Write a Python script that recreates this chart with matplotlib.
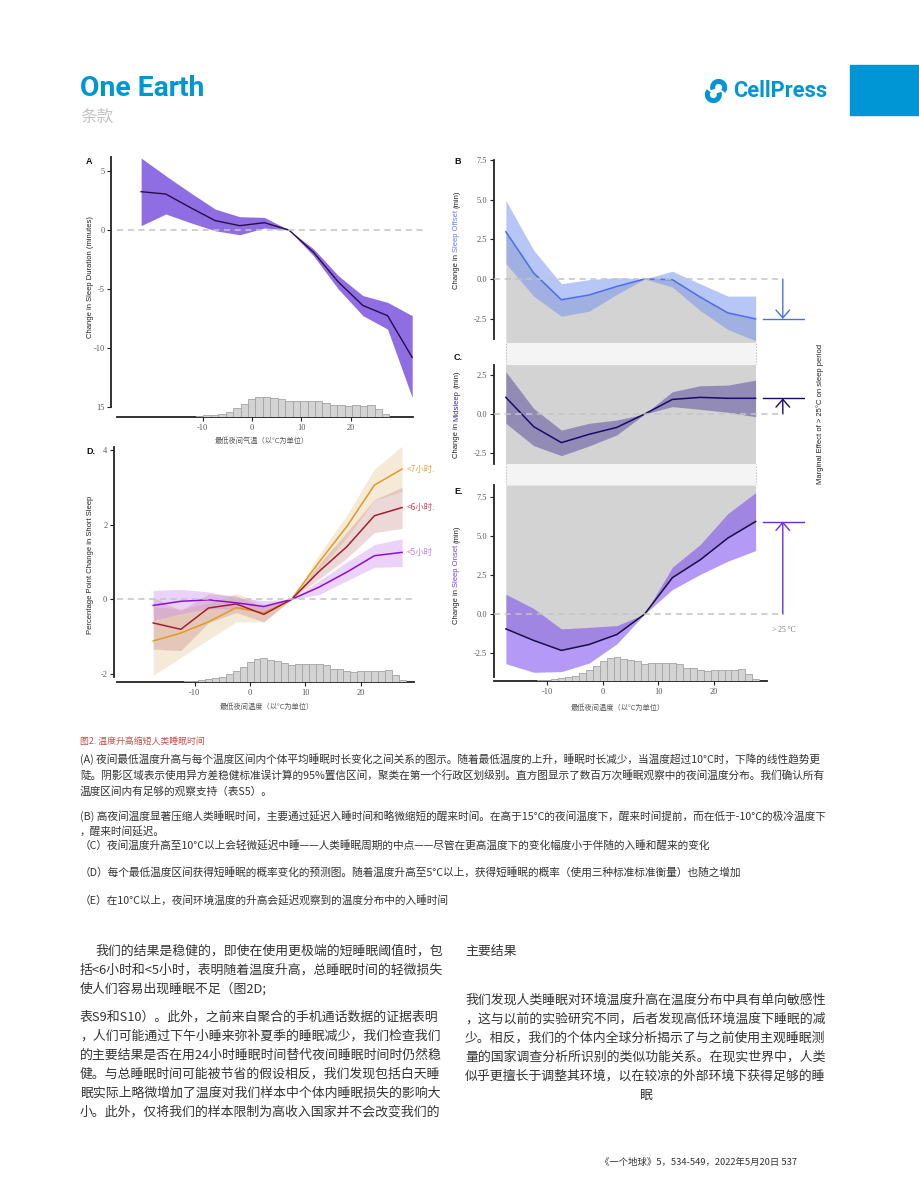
import matplotlib
matplotlib.use('Agg')
import matplotlib.pyplot as plt
import numpy as np
from matplotlib import font_manager
from matplotlib.patches import Rectangle, Arc

installed = {f.name for f in font_manager.fontManager.ttflist}
CJK = 'Noto Sans CJK SC'
SANS = 'Liberation Sans' if 'Liberation Sans' in installed else 'DejaVu Sans'
SERIF = 'Liberation Serif' if 'Liberation Serif' in installed else 'DejaVu Serif'
NARROW = 'Liberation Sans Narrow' if 'Liberation Sans Narrow' in installed else 'Roboto'
plt.rcParams['font.family'] = [CJK, 'DejaVu Sans']

# ---------------- data ----------------
temps_A = [-22.5, -17.5, -12.5, -7.5, -2.5, 2.5, 7.5, 12.5, 17.5, 22.5, 27.5, 32.5]
dur_mean = [3.25, 3.05, 1.9, 0.8, 0.37, 0.62, 0.0, -1.9, -4.4, -6.4, -7.26, -10.8]
dur_hi = [6.1, 4.6, 3.16, 1.78, 1.13, 1.07, 0.0, -1.6, -3.87, -5.56, -6.13, -7.26]
dur_lo = [0.37, 1.36, 0.62, -0.06, -0.4, 0.17, 0.0, -2.2, -5.0, -7.26, -8.4, -14.2]

temps = [-17.5, -12.5, -7.5, -2.5, 2.5, 7.5, 12.5, 17.5, 22.5, 27.5]

offset_mean = [2.98, 0.38, -1.31, -1.01, -0.47, 0.0, -0.04, -1.14, -2.14, -2.52]
offset_hi = [4.95, 1.82, -0.3, -0.04, 0.08, 0.0, 0.49, -0.3, -1.08, -1.08]
offset_lo = [0.97, -1.08, -2.35, -2.03, -0.97, 0.0, -0.51, -1.99, -3.19, -3.89]

mid_mean = [1.06, -0.8, -1.82, -1.29, -0.85, 0.0, 0.93, 1.06, 1.0, 1.0]
mid_hi = [2.69, 0.36, -1.02, -0.59, -0.38, 0.0, 1.42, 1.8, 1.84, 2.16]
mid_lo = [-0.59, -2.01, -2.65, -2.03, -1.33, 0.0, 0.47, 0.3, 0.11, -0.17]

onset_mean = [-0.95, -1.69, -2.33, -1.95, -1.31, 0.0, 2.33, 3.47, 4.87, 5.93]
onset_hi = [1.27, 0.36, -0.95, -0.85, -0.74, 0.0, 3.0, 4.45, 6.44, 7.78]
onset_lo = [-3.18, -3.73, -3.69, -3.14, -1.91, 0.0, 1.57, 2.54, 3.39, 4.07]

short7_mean = [-1.11, -0.9, -0.6, -0.22, -0.36, 0.0, 1.0, 1.95, 3.06, 3.49]
short7_hi = [-0.2, -0.25, -0.1, 0.16, -0.12, 0.0, 1.2, 2.25, 3.49, 4.1]
short7_lo = [-2.03, -1.55, -1.07, -0.6, -0.6, 0.0, 0.8, 1.65, 2.65, 2.9]

short6_mean = [-0.63, -0.8, -0.23, -0.12, -0.4, 0.0, 0.75, 1.41, 2.24, 2.46]
short6_hi = [0.06, -0.3, 0.15, 0.1, -0.2, 0.0, 0.95, 1.8, 2.67, 3.0]
short6_lo = [-1.33, -1.37, -0.62, -0.35, -0.6, 0.0, 0.55, 1.1, 1.79, 1.9]

short5_mean = [-0.16, -0.05, -0.01, -0.09, -0.19, 0.0, 0.33, 0.73, 1.17, 1.26]
short5_hi = [0.24, 0.27, 0.2, 0.05, -0.03, 0.0, 0.5, 1.0, 1.47, 1.62]
short5_lo = [-0.56, -0.38, -0.25, -0.25, -0.34, 0.0, 0.13, 0.5, 0.86, 0.88]

short_labels = ['<7小时.', '<6小时.', '<5小时']

hist_A_counts = [1, 1, 2, 4, 5, 8, 13, 22, 33, 44, 50, 50, 47, 44, 40, 41, 40, 40, 40,
                 35, 31, 29, 27, 29, 27, 29, 21, 7]
hist_A_start, hist_A_width = -14.4, 1.51
hist_DE_counts = [1, 2, 3, 5, 8, 12, 16, 23, 32, 45, 59, 67, 70, 65, 61, 57, 50, 52, 52,
                  52, 52, 49, 38, 37, 31, 30, 32, 31, 31, 33, 34, 20, 7]
hist_DE_start, hist_DE_width = -13.1, 1.25

xticks_T = [-10, 0, 10, 20]
xtick_labels_T = ['-10', '0', '10', '20']
yticks_A = [5, 0, -5, -10, -15]
ytick_labels_A = ['5', '0', '-5', '-10', '15']
yticks_D = [4, 2, 0, -2]
ytick_labels_D = ['4', '2', '0', '-2']
yticks_B = [7.5, 5.0, 2.5, 0.0, -2.5]
yticks_C = [2.5, 0.0, -2.5]
yticks_E = [7.5, 5.0, 2.5, 0.0, -2.5]

caption_title = '图2. 温度升高缩短人类睡眠时间'
caption_lines = [
    (759, '(A) 夜间最低温度升高与每个温度区间内个体平均睡眠时长变化之间关系的图示。随着最低温度的上升，睡眠时长减少，当温度超过10°C时，下降的线性趋势更'),
    (775, '陡。阴影区域表示使用异方差稳健标准误计算的95%置信区间，聚类在第一个行政区划级别。直方图显示了数百万次睡眠观察中的夜间温度分布。我们确认所有'),
    (791, '温度区间内有足够的观察支持（表S5）。'),
    (816, '(B) 高夜间温度显著压缩人类睡眠时间，主要通过延迟入睡时间和略微缩短的醒来时间。在高于15°C的夜间温度下，醒来时间提前，而在低于-10°C的极冷温度下'),
    (831, '，醒来时间延迟。'),
    (845, '（C）夜间温度升高至10°C以上会轻微延迟中睡——人类睡眠周期的中点——尽管在更高温度下的变化幅度小于伴随的入睡和醒来的变化'),
    (872, '（D）每个最低温度区间获得短睡眠的概率变化的预测图。随着温度升高至5°C以上，获得短睡眠的概率（使用三种标准标准衡量）也随之增加'),
    (900, '（E）在10°C以上，夜间环境温度的升高会延迟观察到的温度分布中的入睡时间'),
]
body_left = [
    (95, 951, '我们的结果是稳健的，即使在使用更极端的短睡眠阈值时，包'),
    (80, 970, '括<6小时和<5小时，表明随着温度升高，总睡眠时间的轻微损失'),
    (80, 989, '使人们容易出现睡眠不足（图2D;'),
    (80, 1017, '表S9和S10）。此外，之前来自聚合的手机通话数据的证据表明'),
    (80, 1036, '，人们可能通过下午小睡来弥补夏季的睡眠减少，我们检查我们'),
    (80, 1055, '的主要结果是否在用24小时睡眠时间替代夜间睡眠时间时仍然稳'),
    (80, 1074, '健。与总睡眠时间可能被节省的假设相反，我们发现包括白天睡'),
    (80, 1093, '眠实际上略微增加了温度对我们样本中个体内睡眠损失的影响大'),
    (80, 1112, '小。此外，仅将我们的样本限制为高收入国家并不会改变我们的'),
]
body_right = [
    (465, 951, '主要结果'),
    (465, 1000, '我们发现人类睡眠对环境温度升高在温度分布中具有单向敏感性'),
    (465, 1019, '，这与以前的实验研究不同，后者发现高低环境温度下睡眠的减'),
    (465, 1038, '少。相反，我们的个体内全球分析揭示了与之前使用主观睡眠测'),
    (465, 1057, '量的国家调查分析所识别的类似功能关系。在现实世界中，人类'),
    (465, 1076, '似乎更擅长于调整其环境，以在较凉的外部环境下获得足够的睡'),
]
footer = '《一个地球》5，534-549，2022年5月20日 537'

# ---------------- layout helpers ----------------
W, H = 920, 1195
fig = plt.figure(figsize=(W / 100, H / 100), dpi=100)
fig.patch.set_facecolor('white')
R = fig.canvas.get_renderer()


def rect(l, t, r, b):
    return [l / W, 1 - b / H, (r - l) / W, (b - t) / H]


def fx(x):
    return x / W


def fy(y):
    return 1 - y / H


TICK_C = '#555555'
ZERO_C = '#c4c4c4'
GRAY = '#d3d3d3'
TEXT_C = '#333333'


def style(ax, left_bounds, bottom_bounds=None, left_out=0):
    for s in ['top', 'right']:
        ax.spines[s].set_visible(False)
    ax.spines['left'].set_bounds(*left_bounds)
    ax.spines['left'].set_linewidth(1.3)
    ax.spines['left'].set_color('#222222')
    if left_out:
        ax.spines['left'].set_position(('outward', left_out))
    if bottom_bounds is None:
        ax.spines['bottom'].set_visible(False)
        ax.tick_params(axis='x', bottom=False, labelbottom=False)
    else:
        ax.spines['bottom'].set_bounds(*bottom_bounds)
        ax.spines['bottom'].set_linewidth(1.3)
        ax.spines['bottom'].set_color('#222222')
    ax.tick_params(axis='both', length=3, width=0.8, color='#222222', labelsize=6,
                   labelcolor=TICK_C, pad=2)
    ax.patch.set_alpha(0)
    for lab in ax.get_xticklabels() + ax.get_yticklabels():
        lab.set_family(SERIF)


def set_ticks(ax, xt=None, xl=None, yt=None, yl=None):
    if xt is not None:
        ax.set_xticks(xt)
        ax.set_xticklabels(xl, family=SERIF)
    if yt is not None:
        ax.set_yticks(yt)
        ax.set_yticklabels(yl, family=SERIF)


def hist(ax, counts, start, width, base, hmax):
    c = np.asarray(counts, float)
    edges = start + width * np.arange(len(c))
    ax.bar(edges, c / c.max() * hmax, width=width, bottom=base, align='edge',
           color='#d3d3d3', edgecolor='#a3a3a3', linewidth=0.6, zorder=4)


def rot_label(x_px, yc_px, parts, size=5.5):
    texts = [fig.text(fx(x_px), 0.5, s, rotation=90, ha='center', va='bottom',
                      fontsize=size, color=c, family=SANS) for s, c in parts]
    a = fig.text(0, 0, 'a a', fontsize=size, family=SANS)
    b = fig.text(0, 0, 'aa', fontsize=size, family=SANS)
    sp = a.get_window_extent(R).width - b.get_window_extent(R).width
    a.remove()
    b.remove()
    lens = [t.get_window_extent(R).height for t in texts]
    total = sum(lens) + sp * (len(lens) - 1)
    y = (H - yc_px) - total / 2
    for t, L in zip(texts, lens):
        t.set_position((fx(x_px), y / H))
        y += L + sp


def fit(t, target):
    w = t.get_window_extent(R).width
    t.set_fontsize(t.get_fontsize() * target / w)
    return t.get_fontsize()


def zero_line(ax, x0, x1):
    ax.plot([x0, x1], [0, 0], color=ZERO_C, lw=1.1, ls=(0, (4, 3)), zorder=3.5)


# ---------------- Panel A ----------------
axA = fig.add_axes(rect(117, 157, 425, 417))
xlimA, ylimA = (-27.4, 35.1), (-15.85, 6.19)
axA.set_xlim(*xlimA)
axA.set_ylim(*ylimA)
zero_line(axA, xlimA[0], xlimA[1])
axA.fill_between(temps_A, dur_lo, dur_hi, color='#8f6ee3', lw=0, zorder=2)
axA.plot(temps_A, dur_mean, color='#2a0c4a', lw=1.0, zorder=3)
hist(axA, hist_A_counts, hist_A_start, hist_A_width, ylimA[0], 1.69)
set_ticks(axA, xticks_T, xtick_labels_T, yticks_A, ytick_labels_A)
style(axA, (-15, ylimA[1]), (xlimA[0], 32.7), left_out=4)

# ---------------- Panel D ----------------
axD = fig.add_axes(rect(117, 447, 414, 682))
xlimD, ylimD = (-24.05, 29.66), (-2.21, 4.08)
axD.set_xlim(*xlimD)
axD.set_ylim(*ylimD)
zero_line(axD, xlimD[0], xlimD[1])
axD.fill_between(temps, short7_lo, short7_hi, color='#d9a860', alpha=0.25, lw=0, zorder=2)
axD.fill_between(temps, short6_lo, short6_hi, color='#b05050', alpha=0.22, lw=0, zorder=2.1)
axD.fill_between(temps, short5_lo, short5_hi, color='#c98af0', alpha=0.38, lw=0, zorder=2.2)
axD.plot(temps, short7_mean, color='#e09b20', lw=1.1, zorder=3)
axD.plot(temps, short6_mean, color='#a31f2e', lw=1.1, zorder=3.1)
axD.plot(temps, short5_mean, color='#8c0fd0', lw=1.1, zorder=3.2)
for lab, ser, col in zip(short_labels, [short7_mean, short6_mean, short5_mean],
                         ['#e6a53a', '#cc4a5c', '#c27ce8']):
    axD.text(temps[-1] + 0.8, ser[-1], lab, color=col, fontsize=6, va='center',
             ha='left', clip_on=False, family=[CJK, 'DejaVu Sans'])
hist(axD, hist_DE_counts, hist_DE_start, hist_DE_width, ylimD[0], 0.64)
set_ticks(axD, xticks_T, xtick_labels_T, yticks_D, ytick_labels_D)
style(axD, (-2.08, ylimD[1]), (xlimD[0], xlimD[1]), left_out=2)

# ---------------- Panels B, C, E ----------------
xlimR = (-19.64, 36.4)
arrow_x, bar_x0, bar_x1 = 32.4, 28.8, 36.2
head = '->, head_length=0.4, head_width=0.35'

axB = fig.add_axes(rect(494, 157, 805, 343))
ylimB = (-4.04, 7.70)
axB.set_xlim(*xlimR)
axB.set_ylim(*ylimB)
axB.fill_between(temps, offset_mean, ylimB[0], color=GRAY, lw=0, zorder=1)
axB.fill_between(temps, offset_lo, offset_hi, color='#6d8ef0', alpha=0.5, lw=0, zorder=2)
zero_line(axB, xlimR[0], arrow_x)
axB.plot(temps, offset_mean, color='#4a6ee8', lw=1.1, zorder=3)
colB = '#4a70e8'
axB.annotate('', xy=(arrow_x, offset_mean[-1]), xytext=(arrow_x, 0),
             arrowprops=dict(arrowstyle=head, color=colB, lw=1.0, mutation_scale=14,
                             shrinkA=0, shrinkB=0))
axB.plot([bar_x0, bar_x1], [offset_mean[-1]] * 2, color=colB, lw=1.0)
set_ticks(axB, yt=yticks_B, yl=['%.1f' % v for v in yticks_B])
style(axB, (-3.77, 7.5))

axC = fig.add_axes(rect(494, 365, 805, 464))
ylimC = (-3.18, 3.12)
axC.set_xlim(*xlimR)
axC.set_ylim(*ylimC)
axC.fill_between(temps, ylimC[0], ylimC[1], color=GRAY, lw=0, zorder=1)
axC.fill_between(temps, mid_lo, mid_hi, color='#32208a', alpha=0.40, lw=0, zorder=2)
zero_line(axC, xlimR[0], arrow_x)
axC.plot(temps, mid_mean, color='#1a0a6a', lw=1.1, zorder=3)
colC = '#1a0a6a'
axC.annotate('', xy=(arrow_x, mid_mean[-1]), xytext=(arrow_x, 0),
             arrowprops=dict(arrowstyle=head, color=colC, lw=1.0, mutation_scale=14,
                             shrinkA=0, shrinkB=0))
axC.plot([bar_x0, bar_x1], [mid_mean[-1]] * 2, color=colC, lw=1.0)
set_ticks(axC, yt=yticks_C, yl=['%.1f' % v for v in yticks_C])
style(axC, ylimC)

axE = fig.add_axes(rect(494, 485, 805, 681))
ylimE = (-4.29, 8.27)
axE.set_xlim(*xlimR)
axE.set_ylim(*ylimE)
axE.fill_between(temps, onset_mean, ylimE[1], color=GRAY, lw=0, zorder=1)
axE.fill_between(temps, onset_lo, onset_hi, color='#7846f0', alpha=0.55, lw=0, zorder=2)
zero_line(axE, xlimR[0], arrow_x)
axE.plot(temps, onset_mean, color='#1a1040', lw=1.1, zorder=3)
colE = '#6a2ae8'
axE.annotate('', xy=(arrow_x, onset_mean[-1]), xytext=(arrow_x, 0),
             arrowprops=dict(arrowstyle=head, color=colE, lw=1.0, mutation_scale=14,
                             shrinkA=0, shrinkB=0))
axE.plot([bar_x0, bar_x1], [onset_mean[-1]] * 2, color=colE, lw=1.0)
axE.text(30.5, -1.03, '> 25 °C', fontsize=5.5, color='#777777', va='center', ha='left',
         family=SERIF)
hist(axE, hist_DE_counts, hist_DE_start, hist_DE_width, ylimE[0], 1.54)
set_ticks(axE, xticks_T, xtick_labels_T, yticks_E, ['%.1f' % v for v in yticks_E])
style(axE, (-4.04, ylimE[1]), (xlimR[0], 29.55))

# gap strips between B-C and C-E
for (t, b) in [(343, 365), (464, 485)]:
    axs = fig.add_axes(rect(494, t, 805, b))
    axs.set_xlim(*xlimR)
    axs.set_ylim(0, 1)
    axs.axis('off')
    axs.axvspan(temps[0], temps[-1], color='#f4f4f4', lw=0)
    axs.vlines([temps[0], temps[-1]], 0, 1, colors='#b5b5b5', linestyles=':', lw=0.8)

# ---------------- axis labels ----------------
rot_label(91, 277, [('Change in Sleep Duration (minutes)', '#222222')])
rot_label(91, 565, [('Percentage Point Change in Short Sleep', '#222222')])
rot_label(457, 240, [('Change in', '#222222'), ('Sleep Offset', '#5b7ff0'), ('(min)', '#222222')])
rot_label(457, 414, [('Change in', '#222222'), ('Midsleep', '#3a2ab0'), ('(min)', '#222222')])
rot_label(457, 575, [('Change in', '#222222'), ('Sleep Onset', '#7a3cf0'), ('(min)', '#222222')])
fig.text(fx(820), fy(414), 'Marginal Effect of > 25°C on sleep period', rotation=90,
         ha='center', va='center', fontsize=5.5, family=SANS, color='#222222')

for x, y, s in [(262, 441, '最低夜间气温（以°C为单位）'), (267, 707, '最低夜间温度（以°C为单位）'),
                (618, 708, '最低夜间温度（以°C为单位）')]:
    fig.text(fx(x), fy(y), s, ha='center', va='center', fontsize=5.2, color='#555555')

for x, y, s in [(86, 162, 'A'), (454, 162, 'B'), (454, 357, 'C.'), (86, 452, 'D.'),
                (454, 492, 'E.')]:
    fig.text(fx(x), fy(y), s, ha='left', va='center', fontsize=6.5, weight='bold',
             family=SANS, color='#111111')

# ---------------- header ----------------
t1 = fig.text(fx(80), fy(89), 'One Earth', fontsize=20, weight='bold', color='#0096d6',
              va='center', ha='left', family=NARROW)
fit(t1, 124)
fig.text(fx(80), fy(117), '条款', fontsize=12, color='#c4c4c4', va='center', ha='left')
t2 = fig.text(fx(733), fy(91), 'CellPress', fontsize=15, weight='bold', color='#0096d6',
              va='center', ha='left', family=NARROW)
fit(t2, 95)
axL = fig.add_axes(rect(704, 79, 728, 103))
axL.set_xlim(-1, 1)
axL.set_ylim(-1, 1)
axL.axis('off')
axL.add_patch(Arc((0.22, 0.3), 1.0, 1.0, theta1=-40, theta2=200, lw=3.6, color='#0096d6'))
axL.add_patch(Arc((-0.22, -0.3), 1.0, 1.0, theta1=140, theta2=380, lw=3.6, color='#0096d6'))
fig.patches.append(Rectangle((fx(850), fy(115)), 70 / W, 50 / H, transform=fig.transFigure,
                             color='#0096d6', zorder=0))

# ---------------- caption ----------------
fig.text(fx(80), fy(741), caption_title, fontsize=6.4, color='#c0504d', va='center', ha='left')
ref = fig.text(fx(80), fy(caption_lines[0][0]), caption_lines[0][1], fontsize=7.8,
               color=TEXT_C, va='center', ha='left')
cap_size = fit(ref, 747)
for y, s in caption_lines[1:]:
    fig.text(fx(80), fy(y), s, fontsize=cap_size, color=TEXT_C, va='center', ha='left')

# ---------------- body ----------------
ref2 = fig.text(fx(body_left[1][0]), fy(body_left[1][1]), body_left[1][2], fontsize=9.6,
                color=TEXT_C, va='center', ha='left')
body_size = fit(ref2, 365)
for i, (x, y, s) in enumerate(body_left):
    if i == 1:
        continue
    fig.text(fx(x), fy(y), s, fontsize=body_size, color=TEXT_C, va='center', ha='left')
for x, y, s in body_right:
    fig.text(fx(x), fy(y), s, fontsize=body_size, color=TEXT_C, va='center', ha='left')
fig.text(fx(645), fy(1095), '眠', fontsize=body_size, color=TEXT_C, va='center', ha='center')

tf = fig.text(fx(600), fy(1162), footer, fontsize=6.5, color=TEXT_C, va='center', ha='left')
fit(tf, 198)

fig.savefig('out.png', dpi=100)
